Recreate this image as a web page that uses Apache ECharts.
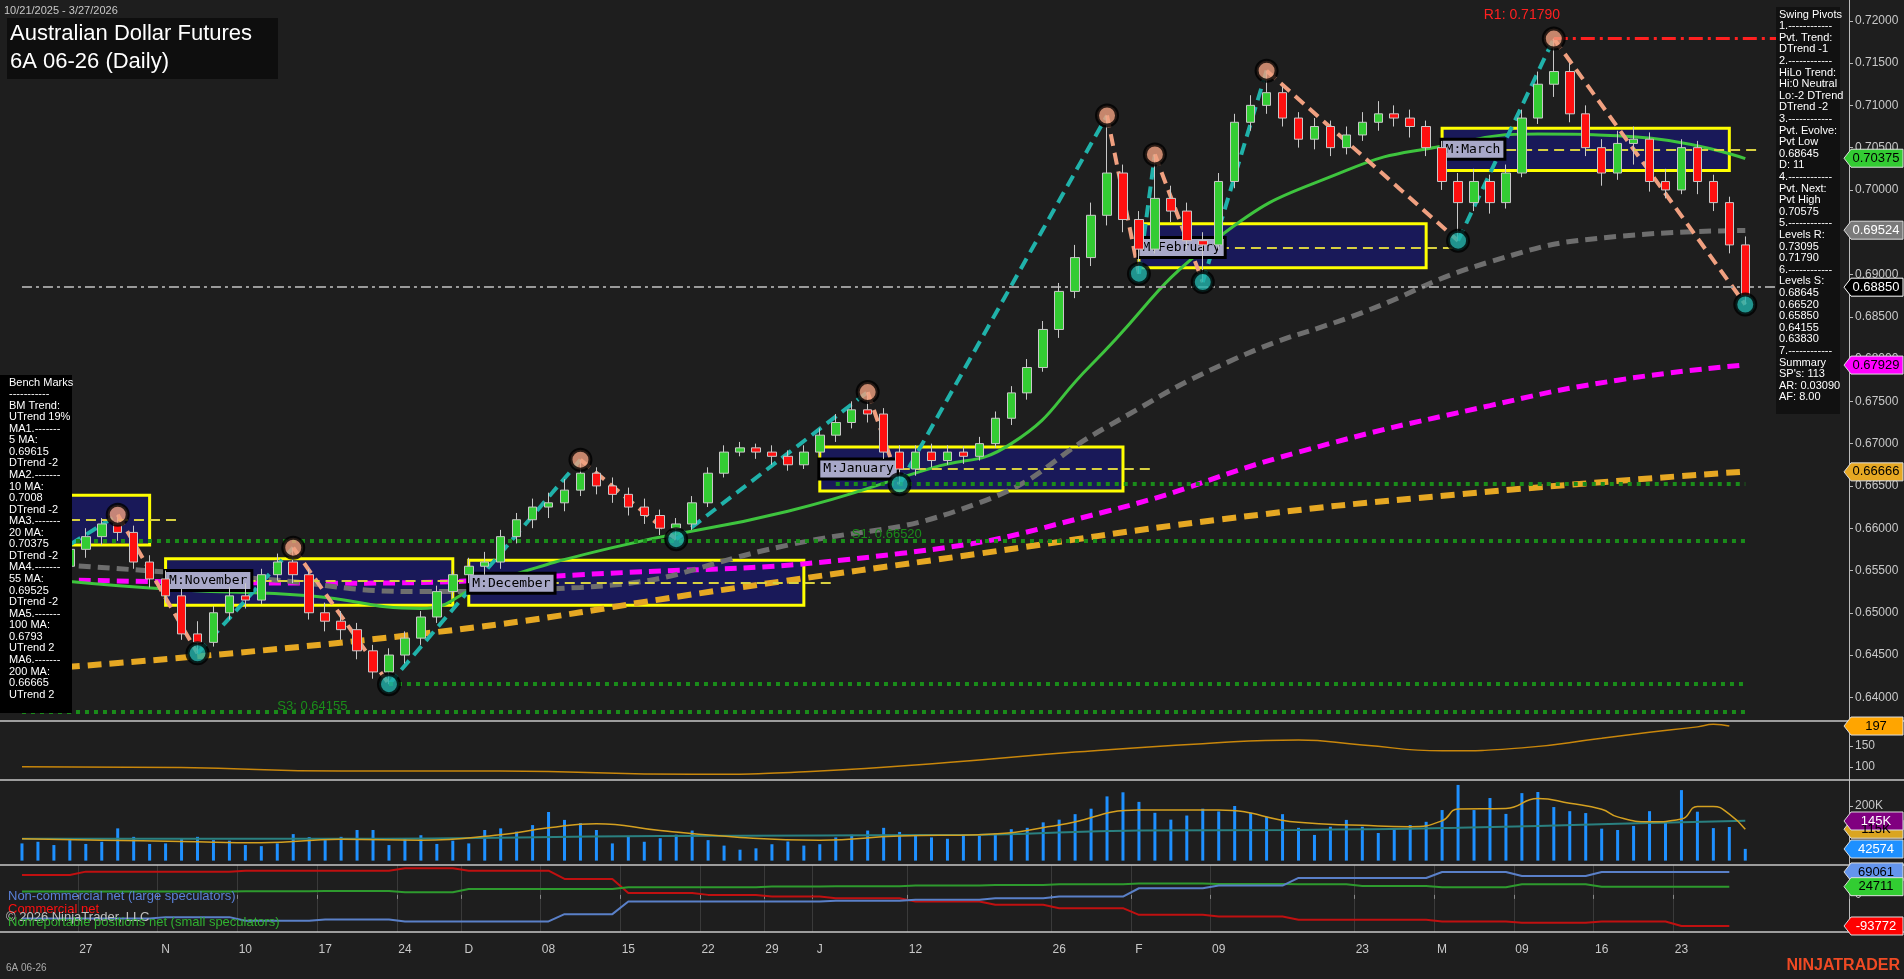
<!DOCTYPE html>
<html>
<head>
<meta charset="utf-8">
<title>6A 06-26 (Daily)</title>
<script src="https://cdn.jsdelivr.net/npm/echarts@6/dist/echarts.min.js"></script>
<style>
html,body{margin:0;padding:0;background:#1e1e1e;}
#chart{width:1904px;height:979px;}
</style>
</head>
<body>
<div id="chart"></div>
<script>
// trading days 10/21/2025 - 3/27/2026
var dates = ['10/21','10/22','10/23','10/24','10/27','10/28','10/29','10/30','10/31',
 '11/03','11/04','11/05','11/06','11/07','11/10','11/11','11/12','11/13','11/14','11/17','11/18','11/19','11/20','11/21','11/24','11/25','11/26','11/28',
 '12/01','12/02','12/03','12/04','12/05','12/08','12/09','12/10','12/11','12/12','12/15','12/16','12/17','12/18','12/19','12/22','12/23','12/24','12/26','12/29','12/30','12/31',
 '01/02','01/05','01/06','01/07','01/08','01/09','01/12','01/13','01/14','01/15','01/16','01/20','01/21','01/22','01/23','01/26','01/27','01/28','01/29','01/30',
 '02/02','02/03','02/04','02/05','02/06','02/09','02/10','02/11','02/12','02/13','02/17','02/18','02/19','02/20','02/23','02/24','02/25','02/26','02/27',
 '03/02','03/03','03/04','03/05','03/06','03/09','03/10','03/11','03/12','03/13','03/16','03/17','03/18','03/19','03/20','03/23','03/24','03/25','03/26','03/27'];
var padCats = ['p1','p2','p3','p4','p5','p6'];
var tickLabels = {'10/27':'27','11/03':'N','11/10':'10','11/17':'17','11/24':'24','12/01':'D','12/08':'08','12/15':'15','12/22':'22','12/29':'29',
 '01/02':'J','01/12':'12','01/26':'26','02/02':'F','02/09':'09','02/23':'23','03/02':'M','03/09':'09','03/16':'16','03/23':'23'};

// [open, close, low, high]
var ohlc = [
[0.6532,0.6520,0.6508,0.6545],[0.6520,0.6535,0.6512,0.6548],[0.6535,0.6555,0.6528,0.6566],[0.6555,0.6575,0.6548,0.6588],
[0.6575,0.6590,0.6565,0.6600],[0.6590,0.6605,0.6580,0.6612],[0.6605,0.6595,0.6585,0.6616],[0.6595,0.6560,0.6552,0.6603],
[0.6560,0.6540,0.6530,0.6568],[0.6540,0.6520,0.6512,0.6550],[0.6520,0.6475,0.6468,0.6528],[0.6475,0.6465,0.6452,0.6490],
[0.6465,0.6500,0.6460,0.6508],[0.6500,0.6520,0.6492,0.6530],[0.6520,0.6515,0.6505,0.6535],[0.6515,0.6545,0.6510,0.6552],
[0.6545,0.6560,0.6538,0.6570],[0.6560,0.6545,0.6535,0.6577],[0.6545,0.6500,0.6492,0.6552],[0.6500,0.6490,0.6478,0.6512],
[0.6490,0.6480,0.6468,0.6502],[0.6480,0.6455,0.6445,0.6488],[0.6455,0.6430,0.6422,0.6462],[0.6430,0.6450,0.64155,0.6458],
[0.6450,0.6470,0.6440,0.6478],[0.6470,0.6495,0.6462,0.6502],[0.6495,0.6525,0.6488,0.6532],[0.6525,0.6545,0.6518,0.6550],
[0.6545,0.6555,0.6535,0.6565],[0.6555,0.6560,0.6545,0.6572],[0.6560,0.6590,0.6552,0.6598],[0.6590,0.6610,0.6582,0.6618],
[0.6610,0.6625,0.6600,0.6635],[0.6625,0.6630,0.6612,0.6642],[0.6630,0.6645,0.6620,0.6658],[0.6645,0.6665,0.6638,0.6681],
[0.6665,0.6650,0.6640,0.6672],[0.6650,0.6640,0.6630,0.6660],[0.6640,0.6625,0.6615,0.6648],[0.6625,0.6615,0.6605,0.6635],
[0.6615,0.6600,0.6592,0.6622],[0.6600,0.6605,0.6587,0.6612],[0.6605,0.6630,0.6598,0.6638],[0.6630,0.6665,0.6625,0.6672],
[0.6665,0.6690,0.6660,0.6698],[0.6690,0.6695,0.6685,0.6702],[0.6695,0.6690,0.6682,0.6700],[0.6690,0.6685,0.6675,0.6698],
[0.6685,0.6675,0.6668,0.6692],[0.6675,0.6690,0.6670,0.6698],[0.6690,0.6710,0.6685,0.6718],[0.6710,0.6725,0.6702,0.6735],
[0.6725,0.6740,0.6718,0.6750],[0.6740,0.6735,0.6725,0.6761],[0.6735,0.6690,0.6682,0.6742],[0.6690,0.6670,0.6652,0.6698],
[0.6670,0.6690,0.6662,0.6698],[0.6690,0.6680,0.6672,0.6700],[0.6680,0.6690,0.6675,0.6698],[0.6690,0.6685,0.6676,0.6697],
[0.6685,0.6700,0.6680,0.6708],[0.6700,0.6730,0.6695,0.6738],[0.6730,0.6760,0.6722,0.6768],[0.6760,0.6790,0.6752,0.6800],
[0.6790,0.6835,0.6785,0.6845],[0.6835,0.6880,0.6825,0.6890],[0.6880,0.6920,0.6872,0.6935],[0.6920,0.6970,0.6910,0.6985],
[0.6970,0.7020,0.6958,0.7088],[0.7020,0.6965,0.6950,0.7030],[0.6965,0.6930,0.6901,0.6975],[0.6930,0.6990,0.6925,0.7042],
[0.6990,0.6975,0.6962,0.7005],[0.6975,0.6940,0.6930,0.6985],[0.6940,0.6935,0.6891,0.6950],[0.6935,0.7010,0.6930,0.7020],
[0.7010,0.7080,0.7002,0.7090],[0.7080,0.7100,0.7070,0.7112],[0.7100,0.7115,0.7090,0.7141],[0.7115,0.7085,0.7075,0.7122],
[0.7085,0.7060,0.7050,0.7092],[0.7060,0.7075,0.7048,0.7085],[0.7075,0.7050,0.7040,0.7082],[0.7050,0.7065,0.7042,0.7075],
[0.7065,0.7080,0.7058,0.7092],[0.7080,0.7090,0.7070,0.7105],[0.7090,0.7085,0.7075,0.7100],[0.7085,0.7075,0.7062,0.7095],
[0.7075,0.7050,0.7040,0.7082],[0.7050,0.7010,0.7000,0.7058],[0.7010,0.6985,0.6940,0.7020],[0.6985,0.7010,0.6975,0.7025],
[0.7010,0.6985,0.6972,0.7018],[0.6985,0.7020,0.6978,0.7030],[0.7020,0.7085,0.7015,0.7095],[0.7085,0.7125,0.7078,0.7140],
[0.7125,0.7140,0.7110,0.7179],[0.7140,0.7090,0.7080,0.7150],[0.7090,0.7050,0.7040,0.7100],[0.7050,0.7020,0.7005,0.7060],
[0.7020,0.7055,0.7012,0.7070],[0.7055,0.7060,0.7030,0.7075],[0.7060,0.7010,0.6998,0.7068],[0.7010,0.7000,0.6990,0.7025],
[0.7000,0.7050,0.6995,0.7060],[0.7050,0.7010,0.6995,0.7058],[0.7010,0.6985,0.6975,0.7018],[0.6985,0.6935,0.6925,0.6992],
[0.6935,0.6875,0.68645,0.6945]];

// volume, thousands
var volume = [63,69,57,75,61,69,118,87,61,63,82,87,75,73,57,53,63,97,86,75,87,112,112,57,82,93,61,73,
 63,112,118,106,130,178,149,137,112,63,87,69,82,95,110,75,55,40,45,60,70,55,
 60,85,95,110,120,105,90,85,80,95,90,100,115,120,140,150,170,190,235,250,
 215,175,150,165,190,180,200,175,160,170,120,94,124,149,124,101,119,130,142,
 185,277,185,229,171,247,251,196,181,174,117,112,127,181,139,258,179,119,123,43];
var volMaIdx = [0,5,10,15,20,25,30,33,36,40,45,50,55,60,65,70,75,80,84,87,89,90,93,95,97,99,100,102,104,105,106,107,108];
var volMaVal = [80,75,70,65,78,75,95,120,135,110,85,75,90,95,130,185,185,140,129,124,146,189,191,227,210,188,160,142,152,198,198,170,115];
var volMa2Idx = [0,20,40,60,70,80,90,100,108];
var volMa2Val = [80,80,90,95,110,112,120,135,146];

// upper oscillator
var oscIdx = [0,10,20,30,42,50,58,66,74,80,84,89,94,99,102,105,106,107];
var oscVal = [100,98,90,90,82,90,110,135,155,164,152,138,145,168,182,195,201,197];

// moving averages (knots)
var ma20Idx = [0,3,10,18,25,29,37,48,57,62,67,75,83,89,95,101,108];
var ma20Val = [0.6545,0.6537,0.6527,0.6520,0.6505,0.6534,0.6577,0.6620,0.6671,0.6700,0.6793,0.6944,0.7023,0.7052,0.7066,0.7063,0.7037];
var ma55Idx = [0,15,25,35,48,60,68,76,84,92,100,108];
var ma55Val = [0.6560,0.6540,0.6525,0.6530,0.6580,0.6630,0.6720,0.6800,0.6855,0.6915,0.6945,0.6952];
var ma100Idx = [0,20,35,55,68,80,92,100,108];
var ma100Val = [0.6540,0.6535,0.6545,0.6570,0.6620,0.6690,0.6745,0.6775,0.6793];
var ma200Idx = [0,25,45,60,75,90,108];
var ma200Val = [0.6432,0.6475,0.6530,0.6570,0.6610,0.6640,0.6667];

// swing pivots
var pivotIdx = [0,6,11,17,23,35,41,53,55,68,70,71,74,78,90,96,108];
var pivotVal = [0.6545,0.6616,0.6452,0.6577,0.64155,0.6681,0.6587,0.6761,0.6652,0.7088,0.6901,0.7042,0.6891,0.7141,0.6940,0.7179,0.68645];

// monthly boxes: [startIdx, endIdx, top, bottom, mid, label]
var monthBoxes = [
 [-0.5,8,0.6639,0.6580,0.6610,''],
 [9,27.1,0.6564,0.6509,0.6538,'M:November'],
 [27.5,49.2,0.6562,0.6509,0.6535,'M:December'],
 [50,69.2,0.6696,0.6644,0.6670,'M:January'],
 [70.1,88.3,0.6960,0.6908,0.6932,'M:February'],
 [89.1,107.3,0.7073,0.7023,0.7048,'M:March']];

// COT weekly
var cotWeekStart = [0,4,9,14,19,24,28,34,38,43,47,51,56,61,65,70,75,80,84,89,94,99,104];
var nonCommercial = [-71,-71,-67,-78,-74,-80,-80,-58,-20,-20,-20,-18,-15,-10,-5,20,28,51,51,69,57,69,69.061];
var commercial = [60,70,70,73,73,80,73,48,6,0,-5,-10,-20,-30,-40,-60,-65,-75,-75,-80,-84,-80,-93.772];
var nonReportable = [10,10,10,11,12,8,18,18,23,23,25,26,28,30,32,34,33,32,27,23,32,24.711,24.711];

var priceTicks = [0.64,0.645,0.65,0.655,0.66,0.665,0.67,0.675,0.68,0.685,0.69,0.695,0.70,0.705,0.71,0.715,0.72];

var benchText = ['Bench Marks','-----------','BM Trend:','UTrend 19%','MA1.-------','5 MA:','0.69615','DTrend -2','MA2.-------','10 MA:','0.7008','DTrend -2','MA3.-------','20 MA:','0.70375','DTrend -2','MA4.-------','55 MA:','0.69525','DTrend -2','MA5.-------','100 MA:','0.6793','UTrend 2','MA6.-------','200 MA:','0.66665','UTrend 2'];
var swingText = ['Swing Pivots','1.------------','Pvt. Trend:','DTrend -1','2.------------','HiLo Trend:','Hi:0 Neutral','Lo:-2 DTrend','DTrend -2','3.------------','Pvt. Evolve:','Pvt Low','0.68645','D: 11','4.------------','Pvt. Next:','Pvt High','0.70575','5.------------','Levels R:','0.73095','0.71790','6.------------','Levels S:','0.68645','0.66520','0.65850','0.64155','0.63830','7.------------','Summary',"SP's: 113",'AR: 0.03090','AF: 8.00'];

var cats = dates.concat(padCats);
var N = dates.length, last = cats.length - 1;
function pairs(ix, vs){ return ix.map(function(x,k){ return [x, vs[k]]; }); }
function weekly(vals){
  var out = [];
  for (var i = 0; i < N - 1; i++) {
    var w = 0;
    for (var k = 0; k < cotWeekStart.length; k++) if (cotWeekStart[k] <= i) w = k;
    out.push(vals[w]);
  }
  return out;
}
var FONT = 'Liberation Sans, Arial, sans-serif';
var AX = '#c8c8c8';

function xAx(grid, show){
  return {type:'category', gridIndex:grid, data:cats, boundaryGap:true,
    axisLine:{show:false},
    axisTick:{show:show, interval:function(i,v){return tickLabels[v]!==undefined;}, length:4, lineStyle:{color:'#888'}},
    axisLabel:{show:show, color:AX, fontSize:12, fontFamily:FONT, margin:12,
      interval:function(i,v){return tickLabels[v]!==undefined;}, formatter:function(v){return tickLabels[v]||'';}},
    splitLine:{show:grid===3, interval:function(i,v){return tickLabels[v]!==undefined;}, lineStyle:{color:'#3a3a3a'}}};
}
function yAx(grid, min, max, ticks, fmt){
  return {type:'value', gridIndex:grid, position:'right', min:min, max:max, scale:true,
    axisLine:{show:true, lineStyle:{color:'#bbb'}},
    axisTick:{show:true, length:4, customValues:ticks, lineStyle:{color:'#bbb'}},
    axisLabel:{color:AX, fontSize:12, fontFamily:FONT, margin:6, customValues:ticks, formatter:fmt},
    splitLine:{show:false}};
}

// annotations on price
var mlData = [];
for (var k = 0; k < pivotIdx.length - 1; k++) {
  var up = pivotVal[k+1] > pivotVal[k];
  mlData.push([{coord:[pivotIdx[k], pivotVal[k]], lineStyle:{color: up ? '#20b2aa' : '#f0a080', type:[12,7], width:4}},
               {coord:[pivotIdx[k+1], pivotVal[k+1]]}]);
}
function hline(a, b, v, color, type, width){
  mlData.push([{coord:[a, v], lineStyle:{color:color, type:type, width:width}}, {coord:[b, v]}]);
}
hline(96, last, 0.7179, '#ff2020', [14,5,3,5], 3);
hline(0, last, 0.6885, '#9a9a9a', [10,4,3,4], 2);
hline(51, last - 6, 0.6652, '#1a8c1a', [4,5], 4);
hline(0, last - 6, 0.6585, '#1a8c1a', [4,5], 4);
hline(23, last - 6, 0.64155, '#1a8c1a', [4,5], 4);
hline(0, last - 6, 0.6383, '#1a8c1a', [4,5], 4);
var maData = [], mpData = [];
monthBoxes.forEach(function(b){
  maData.push([{coord:[b[0], b[2]]}, {coord:[b[1], b[3]]}]);
  mlData.push([{coord:[b[0], b[4]], lineStyle:{color:'#d8d040', type:[10,6], width:2}}, {coord:[b[1] + 1.5, b[4]]}]);
  if (b[5]) mpData.push({coord:[b[0] + 0.2, b[4]], value:b[5]});
});

var chart = echarts.init(document.getElementById('chart'));
var option = {
  backgroundColor:'#1e1e1e',
  animation:false,
  grid:[
    {left:14, right:55, top:0, height:721},
    {left:14, right:55, top:721, height:59},
    {left:14, right:55, top:780, height:85},
    {left:14, right:55, top:865, height:67}],
  xAxis:[xAx(0,false), xAx(1,false), xAx(2,false), xAx(3,true)],
  yAxis:[
    yAx(0, 0.6372, 0.72246, priceTicks, function(v){return v.toFixed(5);}),
    yAx(1, 68.5, 209, [100,150], function(v){return String(v);}),
    yAx(2, -16, 295, [200], function(v){return v + 'K';}),
    yAx(3, -111.8, 90, [0], function(v){return '0';})],
  series:[
    {type:'candlestick', xAxisIndex:0, yAxisIndex:0, data:ohlc, barWidth:9, z:5,
     itemStyle:{color:'#33cc33', color0:'#ff1010', borderColor:'#c8c8c8', borderColor0:'#c8c8c8', borderWidth:1},
     markArea:{silent:true, itemStyle:{color:'rgba(25,25,100,0.85)', borderColor:'#ffff00', borderWidth:3}, data:maData},
     markLine:{silent:true, symbol:'none', label:{show:false}, data:mlData},
     markPoint:{silent:true, symbol:'rect', symbolSize:1, itemStyle:{color:'transparent'},
       label:{show:true, position:'right', distance:0, color:'#000', fontFamily:'DejaVu Sans Mono, monospace', fontSize:13,
         backgroundColor:'#a8a8c8', borderColor:'#000', borderWidth:3, padding:[2,3], formatter:'{c}'},
       data:mpData}},
    {type:'line', xAxisIndex:0, yAxisIndex:0, data:pairs(ma200Idx, ma200Val), smooth:true, symbol:'none', z:3,
     lineStyle:{color:'#e6a823', width:6, type:[14,8]}},
    {type:'line', xAxisIndex:0, yAxisIndex:0, data:pairs(ma100Idx, ma100Val), smooth:true, symbol:'none', z:3,
     lineStyle:{color:'#ff00ff', width:5, type:[12,7]}},
    {type:'line', xAxisIndex:0, yAxisIndex:0, data:pairs(ma55Idx, ma55Val), smooth:true, symbol:'none', z:3,
     lineStyle:{color:'#6e6e6e', width:5, type:[12,7]}},
    {type:'line', xAxisIndex:0, yAxisIndex:0, data:pairs(ma20Idx, ma20Val), smooth:true, symbol:'none', z:4,
     lineStyle:{color:'#3ec43e', width:3}},
    {type:'scatter', xAxisIndex:0, yAxisIndex:0, z:8, symbolSize:20,
     data:pivotIdx.slice(1).map(function(x,k){
       var v = pivotVal[k+1], hi = v > pivotVal[k];
       return {value:[x, v], itemStyle:{color: hi ? '#f0a080' : '#20b2aa', borderColor:'#000', borderWidth:4}};
     })},
    {type:'line', xAxisIndex:1, yAxisIndex:1, data:pairs(oscIdx, oscVal), smooth:true, symbol:'none',
     lineStyle:{color:'#c8860b', width:1.5}},
    {type:'bar', xAxisIndex:2, yAxisIndex:2, data:volume, barWidth:3, itemStyle:{color:'#1e90ff'}},
    {type:'line', xAxisIndex:2, yAxisIndex:2, data:pairs(volMa2Idx, volMa2Val), smooth:true, symbol:'none',
     lineStyle:{color:'#2a8080', width:2}},
    {type:'line', xAxisIndex:2, yAxisIndex:2, data:pairs(volMaIdx, volMaVal), smooth:true, symbol:'none',
     lineStyle:{color:'#d4a020', width:1.5}},
    {type:'line', xAxisIndex:3, yAxisIndex:3, data:weekly(commercial), symbol:'none', lineStyle:{color:'#c01010', width:2}},
    {type:'line', xAxisIndex:3, yAxisIndex:3, data:weekly(nonReportable), symbol:'none', lineStyle:{color:'#2e9a2e', width:2}},
    {type:'line', xAxisIndex:3, yAxisIndex:3, data:weekly(nonCommercial), symbol:'none', lineStyle:{color:'#5a80c8', width:2}}
  ]
};
chart.setOption(option);

// overlays: panels, texts, value tags
var g = [];
function txt(x, y, s, color, size, extra, z){
  var st = {text:s, x:x, y:y, fill:color, font:(size||12) + 'px ' + FONT};
  if (extra) for (var k in extra) st[k] = extra[k];
  g.push({type:'text', style:st, z:z || 20});
}
[721,780,865,932].forEach(function(y){
  g.push({type:'line', shape:{x1:0, y1:y, x2:1904, y2:y}, style:{stroke:'#c8c8c8', lineWidth:1.5}, z:15});
});
txt(4, 5, '10/21/2025 - 3/27/2026', '#c8c8c8', 11);
g.push({type:'rect', shape:{x:7, y:18, width:271, height:61}, style:{fill:'#0e0e0e'}, z:18});
txt(10, 23, 'Australian Dollar Futures', '#ffffff', 22);
txt(10, 51, '6A 06-26 (Daily)', '#ffffff', 22);
g.push({type:'rect', shape:{x:0, y:375, width:72, height:338}, style:{fill:'#000'}, z:18});
benchText.forEach(function(s, i){ txt(9, 377 + i * 11.56, s, '#fff', 11); });
g.push({type:'rect', shape:{x:1776, y:7, width:64, height:407}, style:{fill:'#111'}, z:18});
swingText.forEach(function(s, i){ txt(1779, 9 + i * 11.6, s, '#fff', 11); });
txt(8, 890, 'Non-commercial net (large speculators)', '#5a80d8', 13);
txt(8, 903, 'Commercial net', '#ff1010', 13);
txt(6, 911, '\u00a9 2026 NinjaTrader, LLC', '#c0c0c0', 13);
txt(8, 916, 'Nonreportable positions net (small speculators)', '#30b030', 13);
txt(6, 963, '6A 06-26', '#aaa', 10);
txt(1900, 958, 'NINJATRADER', '#f04a24', 16, {align:'right', font:'bold 16px ' + FONT});

function atPrice(i, v){ return chart.convertToPixel({xAxisIndex:0, yAxisIndex:0}, [i, v]); }
var r1 = atPrice(94, 0.7179);
txt(r1[0], r1[1] - 30, 'R1: 0.71790', '#ff2020', 14, {align:'center'});
var s1 = atPrice(51.5, 0.6600);
txt(s1[0], s1[1], 'S1: 0.66520', '#1a8c1a', 13);
var s3 = atPrice(16, 0.6397);
txt(s3[0], s3[1], 'S3: 0.64155', '#1a8c1a', 13);

function tag(axis, val, label, bg, fg, border){
  var y = chart.convertToPixel({yAxisIndex:axis}, val);
  g.push({type:'polygon', z:22, shape:{points:[[1844,y],[1851,y-9],[1903,y-9],[1903,y+9],[1851,y+9]]},
    style:{fill:bg, stroke:border || '#ddd', lineWidth:1}});
  txt(1876, y, label, fg, 13, {align:'center', verticalAlign:'middle'}, 24);
}
tag(0, 0.70375, '0.70375', '#33cc33', '#000');
tag(0, 0.69524, '0.69524', '#7a7a7a', '#fff');
tag(0, 0.68850, '0.68850', '#000', '#fff', '#fff');
tag(0, 0.67929, '0.67929', '#ff00ff', '#000');
tag(0, 0.66666, '0.66666', '#e6a823', '#000');
tag(1, 197, '197', '#ffa500', '#000');
tag(2, 115, '115K', '#daa520', '#000');
tag(2, 145, '145K', '#800080', '#fff');
tag(2, 42.574, '42574', '#1e90ff', '#fff');
tag(3, 69.061, '69061', '#6495ed', '#000');
tag(3, 24.711, '24711', '#32cd32', '#000');
tag(3, -93.772, '-93772', '#ff0000', '#fff');
chart.setOption({graphic:g});
</script>
</body>
</html>
